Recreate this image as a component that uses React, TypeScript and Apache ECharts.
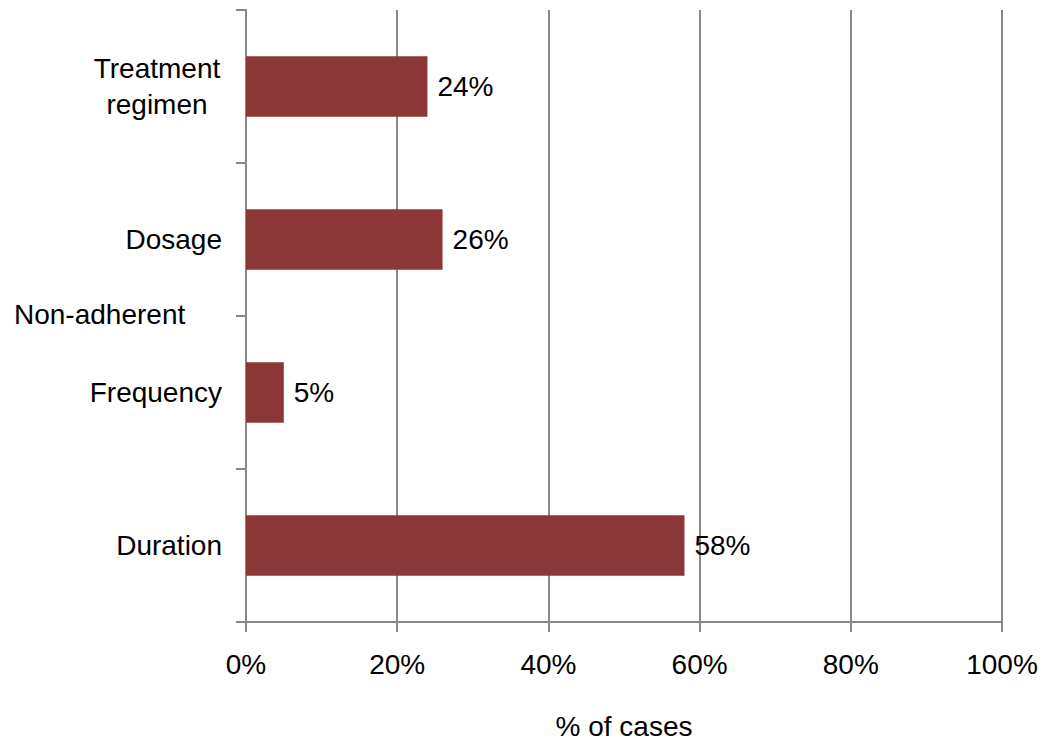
import React, { useEffect, useRef } from "react";
import * as echarts from "echarts";

const categories = ["Treatment\nregimen", "Dosage", "Frequency", "Duration"];
const values = [24, 26, 5, 58];
const groupLabel = "Non-adherent";
const xAxisName = "% of cases";

export default function App() {
  const ref = useRef<HTMLDivElement>(null);
  useEffect(() => {
    document.body.style.margin = "0";
    document.body.style.overflow = "hidden";
    document.documentElement.style.overflow = "hidden";
    const chart = echarts.init(ref.current!, null, { renderer: "svg" });
    const font = "Liberation Sans, Arial, sans-serif";
    chart.setOption({
      animation: false,
      grid: { left: 246, right: 41, top: 10, bottom: 120 },
      xAxis: {
        type: "value",
        min: 0,
        max: 100,
        interval: 20,
        name: xAxisName,
        nameLocation: "middle",
        nameGap: 90,
        nameTextStyle: { fontFamily: font, fontSize: 28, color: "#000" },
        axisLine: { show: true, lineStyle: { color: "#888", width: 2 } },
        axisTick: { show: true, length: 10, lineStyle: { color: "#888", width: 2 } },
        axisLabel: {
          formatter: (v: number) => v + "%",
          fontFamily: font,
          fontSize: 28,
          color: "#000",
          margin: 28,
        },
        splitLine: { show: true, lineStyle: { color: "#888", width: 2 } },
      },
      yAxis: {
        type: "category",
        data: categories,
        inverse: true,
        axisLine: { show: true, lineStyle: { color: "#888", width: 2 } },
        axisTick: { show: true, length: 10, lineStyle: { color: "#888", width: 2 } },
        axisLabel: {
          fontFamily: font,
          fontSize: 28,
          color: "#000",
          margin: 24,
          formatter: (v: string) => {
            const parts = v.split("\n");
            if (parts.length === 1) return v;
            return parts.map((p) => "{c|" + p + "}").join("\n");
          },
          rich: {
            c: {
              width: 130,
              align: "center",
              fontFamily: font,
              fontSize: 28,
              color: "#000",
              lineHeight: 36,
            },
          },
        },
      },
      graphic: [
        {
          type: "text",
          left: 14,
          top: 300,
          style: {
            text: groupLabel,
            fontFamily: font,
            fontSize: 28,
            fill: "#000",
          },
        },
      ],
      series: [
        {
          type: "bar",
          data: values,
          barWidth: "39.5%",
          itemStyle: { color: "#8B3737" },
          label: {
            show: true,
            position: "right",
            distance: 10,
            formatter: (p: any) => p.value + "%",
            fontFamily: font,
            fontSize: 28,
            color: "#000",
          },
        },
      ],
    });
    return () => chart.dispose();
  }, []);
  return (
    <div
      ref={ref}
      style={{ position: "absolute", left: 0, top: 0, width: 1043, height: 745 }}
    />
  );
}
